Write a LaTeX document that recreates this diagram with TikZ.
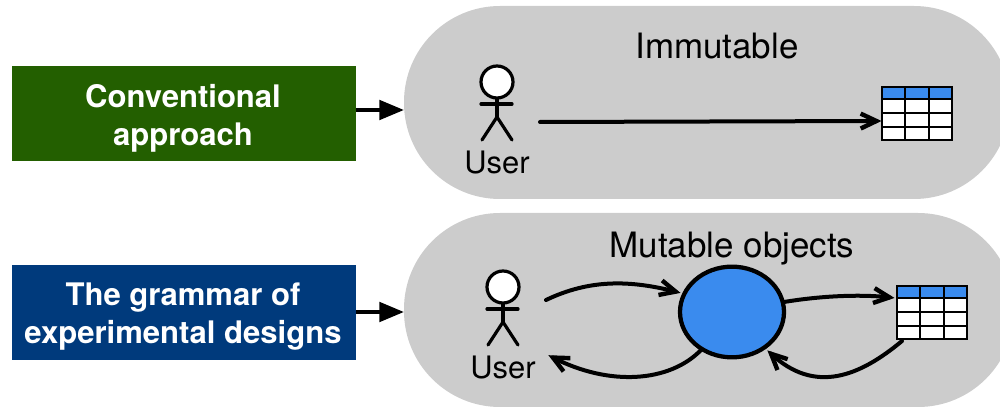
\documentclass[tikz,border=0pt]{standalone}
\usepackage{fontspec}
\setmainfont{TeX Gyre Heros}
\usetikzlibrary{arrows.meta,shapes.geometric}
\definecolor{pillgray}{HTML}{CCCCCC}
\definecolor{hdrblue}{HTML}{3A8BEE}
\definecolor{boxgreen}{HTML}{235F00}
\definecolor{boxblue}{HTML}{003A7C}
\pgfdeclarearrow{
  name=OpenV,
  parameters={x},
  setup code={
    \pgfarrowssettipend{0pt}
    \pgfarrowssetlineend{-4pt}
    \pgfarrowssetvisualbackend{-15pt}
    \pgfarrowssetbackend{-15pt}
  },
  drawing code={
    \pgfsetdash{}{0pt}
    \pgfsetbuttcap
    \pgfsetmiterjoin
    \pgfsetlinewidth{3.3pt}
    \pgfpathmoveto{\pgfpoint{-16pt}{5.6pt}}
    \pgfpathlineto{\pgfpoint{-4.2pt}{0pt}}
    \pgfpathlineto{\pgfpoint{-16pt}{-5.6pt}}
    \pgfusepathqstroke
  }
}
\tikzset{
  x=0.75pt,y=-0.75pt,
  pill/.style={fill=pillgray,draw=none,rounded corners=72pt},
  lead/.style={rectangle,draw=none,minimum width=258pt,minimum height=71.25pt,inner sep=0pt},
  leadtext/.style={inner sep=0pt,text=white,align=center,font=\fontsize{23.3}{28.5}\selectfont\bfseries},
  lbl/.style={inner sep=0pt,anchor=base,font=\fontsize{23.2}{27}\selectfont},
  ttl/.style={inner sep=0pt,anchor=base,font=\fontsize{26.2}{31}\selectfont},
  fline/.style={line width=2.4pt,line cap=round},
  blockarrow/.style={line width=3pt,-{Triangle[length=18.5pt,width=14.5pt]}},
  barb/.style={line width=3pt,line cap=round,-{OpenV}},
  gridline/.style={line width=1.6pt,draw=black},
}
\newcommand{\stickman}[3]{% x, y of head, name
  \node[circle,draw=black,fill=white,line width=2.4pt,minimum size=24pt,inner sep=0pt] (#3head) at (#1,#2) {};
  \coordinate (#3hip) at (#1,#2+35);
  \draw[fline] (#3head.south) -- (#3hip);
  \coordinate (#3al) at (#1-16,#2+22);
  \coordinate (#3ar) at (#1+15,#2+22);
  \draw[fline] (#3al) -- (#3ar);
  \coordinate (#3ll) at (#1-15,#2+58);
  \coordinate (#3lr) at (#1+15,#2+58);
  \draw[fline] (#3ll) -- (#3hip) -- (#3lr);
}
\newcommand{\datatable}[3]{% left, top, name
  \fill[white] (#1,#2) rectangle (#1+70,#2+53);
  \fill[hdrblue] (#1,#2) rectangle (#1+70,#2+12);
  \draw[gridline] (#1,#2+12) -- (#1+70,#2+12);
  \draw[gridline] (#1,#2+26) -- (#1+70,#2+26);
  \draw[gridline] (#1,#2+40) -- (#1+70,#2+40);
  \draw[gridline] (#1+23,#2) -- (#1+23,#2+53);
  \draw[gridline] (#1+47,#2) -- (#1+47,#2+53);
  \node[rectangle,draw=black,line width=1.6pt,outer sep=0pt,minimum width=52.5pt,minimum height=39.75pt,inner sep=0pt,anchor=north west] (#3) at (#1,#2) {};
}
\begin{document}
\begin{tikzpicture}
\useasboundingbox (0,0) rectangle (1000,409);
\begin{scope}
\clip (0,0) rectangle (1000,409);
\fill[pill] (404,6) rectangle (1010,199);
\fill[pill] (404,213) rectangle (1014,407);
\end{scope}
\coordinate (pillA) at (404,110);
\coordinate (pillB) at (404,312);
\node[lead,fill=boxgreen] (conv) at (184,113.5) {};
\node[lead,fill=boxblue] (gram) at (184,312.5) {};
\node[leadtext] (convt) at (183,118) {Conventional\\approach};
\node[leadtext] (gramt) at (183,317) {The grammar of\\experimental designs};
\draw[blockarrow] (conv.east |- pillA) -- (pillA);
\draw[blockarrow] (gram.east |- pillB) -- (pillB);
\node[ttl] (imm) at (717,59) {Immutable};
\node[ttl] (mut) at (732,258) {Mutable objects};
\stickman{497}{82}{ua}
\node[lbl] (ualbl) at (497,174) {User};
\stickman{503}{287}{ub}
\node[lbl] (ublbl) at (503,379) {User};
\datatable{882}{87}{ta}
\datatable{897}{286}{tb}
\node[ellipse,draw=black,fill=hdrblue,line width=3.2pt,minimum width=78pt,minimum height=68pt,inner sep=0pt] (obj) at (732,312) {};
\coordinate (sa) at (540,122);
\draw[barb] (sa) -- (ta.west |- 0,121);
\coordinate (s1) at (546,300);
\coordinate (e1) at (681,293);
\draw[barb] (s1) .. controls (590,279) and (630,280) .. (e1);
\coordinate (s2) at (784,302);
\coordinate (e2) at (895,298);
\draw[barb] (s2) .. controls (820,296) and (860,294) .. (e2);
\coordinate (s3) at (701,350);
\coordinate (e3) at (548,355);
\draw[barb] (s3) .. controls (670,382) and (610,387) .. (e3);
\coordinate (s4) at (902,341);
\coordinate (e4) at (767,350);
\draw[barb] (s4) .. controls (860,376) and (815,395) .. (e4);
\end{tikzpicture}
\end{document}
